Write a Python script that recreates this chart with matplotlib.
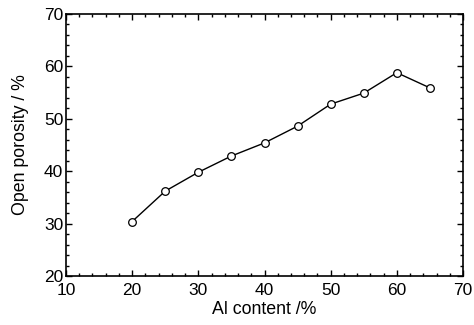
import matplotlib
matplotlib.use("Agg")
import matplotlib.pyplot as plt
from matplotlib.ticker import AutoMinorLocator

plt.rcParams['font.family'] = ['Liberation Sans', 'DejaVu Sans']

# data
al_content = [20, 25, 30, 35, 40, 45, 50, 55, 60, 65]
porosity = [30.4, 36.2, 39.8, 42.9, 45.4, 48.6, 52.8, 54.9, 58.8, 55.9]

fig = plt.figure(figsize=(4.74, 3.25), dpi=100)
ax = fig.add_axes([66/474, 1 - 276/325, (463-66)/474, (276-14)/325])

ax.plot(al_content, porosity, color='black', lw=1.0, marker='o', ms=5.5,
        mfc='white', mec='black', mew=0.9)

ax.set_xlim(10, 70)
ax.set_ylim(20, 70)
ax.set_xticks(range(10, 71, 10))
ax.set_yticks(range(20, 71, 10))
ax.xaxis.set_minor_locator(AutoMinorLocator(5))
ax.yaxis.set_minor_locator(AutoMinorLocator(5))
ax.tick_params(which='both', direction='in', top=True, right=True, width=1.0,
               labelsize=12.5)
ax.tick_params(which='major', length=4)
ax.tick_params(which='minor', length=2)
ax.tick_params(axis='x', pad=5)
ax.tick_params(axis='y', pad=2)
for s in ax.spines.values():
    s.set_linewidth(1.2)

ax.set_xlabel('Al content /%', fontsize=12.8, labelpad=2)
ax.set_ylabel('Open porosity / %', fontsize=12.8, labelpad=11)

fig.savefig('out.png', dpi=100)
